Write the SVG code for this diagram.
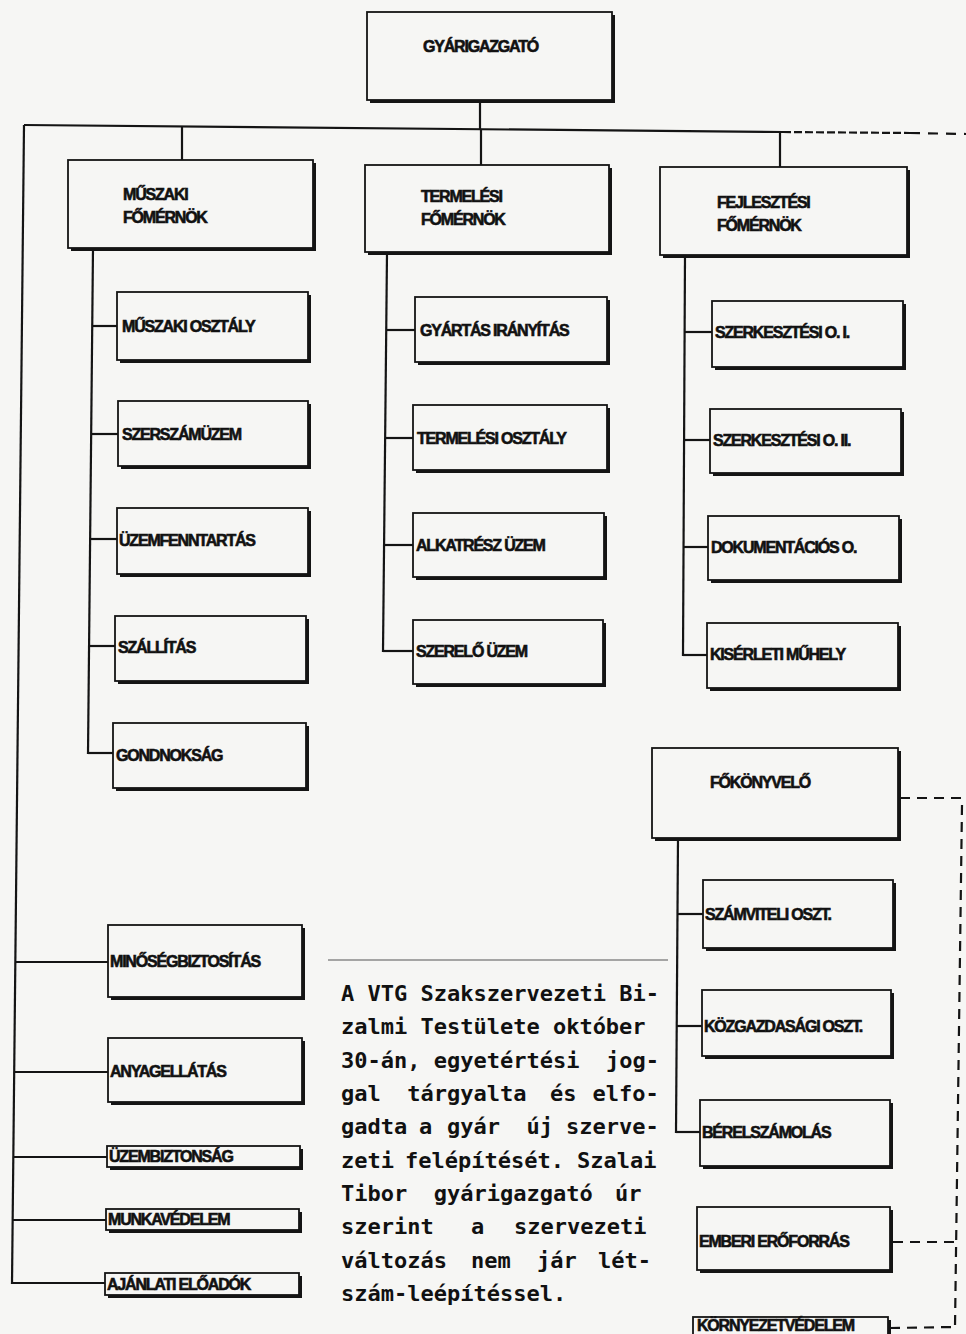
<svg xmlns="http://www.w3.org/2000/svg" width="966" height="1334" viewBox="0 0 966 1334">
<style>
.bg{fill:#f6f6f4}
.sh{fill:#141414}
.bx{fill:#f6f6f4;stroke:#141414;stroke-width:1.8}
.lb{font-family:"Liberation Sans",Arial,sans-serif;font-weight:bold;font-size:16px;letter-spacing:-1.2px;fill:#111;stroke:#111;stroke-width:0.6px}
.ln{stroke:#141414;stroke-width:2.2;fill:none}
.dl{stroke:#141414;stroke-width:2.2;fill:none;stroke-dasharray:10 7}
.pt{font-family:"DejaVu Sans Mono","Liberation Mono",monospace;font-weight:bold;font-size:22px;fill:#111}
</style>
<rect class="bg" x="0" y="0" width="966" height="1334"/>

<g id="connectors">
  <polyline class="ln" points="24,125 783,132"/>
  <path class="ln" d="M783,132 L910,133" style="stroke-dasharray:8 3"/>
  <path class="ln" d="M910,133 L966,134" style="stroke-dasharray:10 8"/>
  <line class="ln" x1="480" y1="100" x2="480" y2="129"/>
  <line class="ln" x1="182" y1="126" x2="182" y2="160"/>
  <line class="ln" x1="481" y1="129" x2="481" y2="165"/>
  <line class="ln" x1="780" y1="132" x2="780" y2="167"/>
  <line class="ln" x1="24" y1="125" x2="12" y2="1284"/>
  <line class="ln" x1="15" y1="962" x2="108" y2="962"/>
  <line class="ln" x1="14" y1="1072" x2="108" y2="1072"/>
  <line class="ln" x1="13" y1="1157" x2="107" y2="1157"/>
  <line class="ln" x1="13" y1="1220" x2="106" y2="1220"/>
  <line class="ln" x1="12" y1="1283" x2="105" y2="1283"/>
  <line class="ln" x1="93" y1="248" x2="88" y2="754"/>
  <line class="ln" x1="93" y1="326" x2="117" y2="326"/>
  <line class="ln" x1="92" y1="434" x2="118" y2="434"/>
  <line class="ln" x1="91" y1="539" x2="117" y2="539"/>
  <line class="ln" x1="90" y1="646" x2="115" y2="646"/>
  <line class="ln" x1="88" y1="753" x2="113" y2="753"/>
  <line class="ln" x1="387" y1="253" x2="383" y2="652"/>
  <line class="ln" x1="387" y1="330" x2="415" y2="330"/>
  <line class="ln" x1="386" y1="438" x2="413" y2="438"/>
  <line class="ln" x1="384" y1="545" x2="413" y2="545"/>
  <line class="ln" x1="383" y1="651" x2="413" y2="651"/>
  <line class="ln" x1="685" y1="255" x2="683" y2="656"/>
  <line class="ln" x1="685" y1="332" x2="712" y2="332"/>
  <line class="ln" x1="684" y1="440" x2="710" y2="440"/>
  <line class="ln" x1="684" y1="547" x2="708" y2="547"/>
  <line class="ln" x1="683" y1="655" x2="707" y2="655"/>
  <line class="ln" x1="678" y1="838" x2="676" y2="1133"/>
  <line class="ln" x1="678" y1="914" x2="703" y2="914"/>
  <line class="ln" x1="677" y1="1026" x2="702" y2="1026"/>
  <line class="ln" x1="676" y1="1132" x2="700" y2="1132"/>
  <line class="dl" x1="900" y1="798" x2="966" y2="798"/>
  <line class="dl" x1="962" y1="805" x2="955" y2="1327"/>
  <line class="dl" x1="893" y1="1242" x2="956" y2="1242"/>
  <line class="dl" x1="890" y1="1328" x2="955" y2="1327"/>
  <line x1="328" y1="960" x2="668" y2="960" stroke="#555" stroke-width="1"/>
</g>

<g id="n-gyarigazgato"><rect class="sh" x="370" y="15" width="245" height="88"/><rect class="bx" x="367" y="12" width="245" height="88"/><text class="lb" x="423" y="52">GYÁRIGAZGATÓ</text></g>

<g id="n-muszaki-fomernok"><rect class="sh" x="71" y="163" width="245" height="88"/><rect class="bx" x="68" y="160" width="245" height="88"/><text class="lb" x="123" y="200">MŰSZAKI</text><text class="lb" x="123" y="223">FŐMÉRNÖK</text></g>
<g id="n-termelesi-fomernok"><rect class="sh" x="368" y="168" width="244" height="87"/><rect class="bx" x="365" y="165" width="244" height="87"/><text class="lb" x="421" y="202">TERMELÉSI</text><text class="lb" x="421" y="225">FŐMÉRNÖK</text></g>
<g id="n-fejlesztesi-fomernok"><rect class="sh" x="663" y="170" width="247" height="88"/><rect class="bx" x="660" y="167" width="247" height="88"/><text class="lb" x="717" y="208">FEJLESZTÉSI</text><text class="lb" x="717" y="231">FŐMÉRNÖK</text></g>

<g id="n-muszaki-osztaly"><rect class="sh" x="120" y="295" width="191" height="68"/><rect class="bx" x="117" y="292" width="191" height="68"/><text class="lb" x="122" y="332">MŰSZAKI OSZTÁLY</text></g>
<g id="n-szerszamuzem"><rect class="sh" x="121" y="404" width="190" height="65"/><rect class="bx" x="118" y="401" width="190" height="65"/><text class="lb" x="122" y="440">SZERSZÁMÜZEM</text></g>
<g id="n-uzemfenntartas"><rect class="sh" x="120" y="511" width="191" height="66"/><rect class="bx" x="117" y="508" width="191" height="66"/><text class="lb" x="119" y="546">ÜZEMFENNTARTÁS</text></g>
<g id="n-szallitas"><rect class="sh" x="118" y="619" width="191" height="65"/><rect class="bx" x="115" y="616" width="191" height="65"/><text class="lb" x="118" y="653">SZÁLLÍTÁS</text></g>
<g id="n-gondnoksag"><rect class="sh" x="116" y="726" width="193" height="65"/><rect class="bx" x="113" y="723" width="193" height="65"/><text class="lb" x="116" y="761">GONDNOKSÁG</text></g>

<g id="n-gyartas-iranyitas"><rect class="sh" x="418" y="300" width="192" height="65"/><rect class="bx" x="415" y="297" width="192" height="65"/><text class="lb" x="420" y="336">GYÁRTÁS IRÁNYÍTÁS</text></g>
<g id="n-termelesi-osztaly"><rect class="sh" x="416" y="408" width="194" height="65"/><rect class="bx" x="413" y="405" width="194" height="65"/><text class="lb" x="417" y="444">TERMELÉSI OSZTÁLY</text></g>
<g id="n-alkatresz-uzem"><rect class="sh" x="416" y="516" width="191" height="64"/><rect class="bx" x="413" y="513" width="191" height="64"/><text class="lb" x="416" y="551">ALKATRÉSZ ÜZEM</text></g>
<g id="n-szerelo-uzem"><rect class="sh" x="416" y="623" width="190" height="64"/><rect class="bx" x="413" y="620" width="190" height="64"/><text class="lb" x="416" y="657">SZERELŐ ÜZEM</text></g>

<g id="n-szerkesztesi-1"><rect class="sh" x="715" y="304" width="191" height="66"/><rect class="bx" x="712" y="301" width="191" height="66"/><text class="lb" x="715" y="338">SZERKESZTÉSI O. I.</text></g>
<g id="n-szerkesztesi-2"><rect class="sh" x="713" y="412" width="191" height="64"/><rect class="bx" x="710" y="409" width="191" height="64"/><text class="lb" x="713" y="446">SZERKESZTÉSI O. II.</text></g>
<g id="n-dokumentacios"><rect class="sh" x="711" y="519" width="191" height="64"/><rect class="bx" x="708" y="516" width="191" height="64"/><text class="lb" x="711" y="553">DOKUMENTÁCIÓS O.</text></g>
<g id="n-kiserleti-muhely"><rect class="sh" x="710" y="626" width="191" height="65"/><rect class="bx" x="707" y="623" width="191" height="65"/><text class="lb" x="710" y="660">KISÉRLETI MŰHELY</text></g>

<g id="n-fokonyvelo"><rect class="sh" x="655" y="751" width="246" height="90"/><rect class="bx" x="652" y="748" width="246" height="90"/><text class="lb" x="710" y="788">FŐKÖNYVELŐ</text></g>
<g id="n-szamviteli"><rect class="sh" x="706" y="883" width="190" height="68"/><rect class="bx" x="703" y="880" width="190" height="68"/><text class="lb" x="705" y="920">SZÁMVITELI OSZT.</text></g>
<g id="n-kozgazdasagi"><rect class="sh" x="705" y="993" width="189" height="66"/><rect class="bx" x="702" y="990" width="189" height="66"/><text class="lb" x="704" y="1032">KÖZGAZDASÁGI OSZT.</text></g>
<g id="n-berelszamolas"><rect class="sh" x="703" y="1103" width="190" height="66"/><rect class="bx" x="700" y="1100" width="190" height="66"/><text class="lb" x="702" y="1138">BÉRELSZÁMOLÁS</text></g>
<g id="n-emberi-eroforras"><rect class="sh" x="700" y="1210" width="193" height="63"/><rect class="bx" x="697" y="1207" width="193" height="63"/><text class="lb" x="699" y="1247">EMBERI ERŐFORRÁS</text></g>
<g id="n-kornyezetvedelem"><rect class="sh" x="696" y="1320" width="195" height="30"/><rect class="bx" x="693" y="1317" width="195" height="30"/><text class="lb" x="697" y="1331">KÖRNYEZETVÉDELEM</text></g>

<g id="n-minosegbiztositas"><rect class="sh" x="111" y="928" width="194" height="72"/><rect class="bx" x="108" y="925" width="194" height="72"/><text class="lb" x="110" y="967">MINŐSÉGBIZTOSÍTÁS</text></g>
<g id="n-anyagellatas"><rect class="sh" x="111" y="1041" width="194" height="64"/><rect class="bx" x="108" y="1038" width="194" height="64"/><text class="lb" x="110" y="1077">ANYAGELLÁTÁS</text></g>
<g id="n-uzembiztonsag"><rect class="sh" x="110" y="1149" width="193" height="21"/><rect class="bx" x="107" y="1146" width="193" height="21"/><text class="lb" x="109" y="1162">ÜZEMBIZTONSÁG</text></g>
<g id="n-munkavedelem"><rect class="sh" x="109" y="1212" width="193" height="21"/><rect class="bx" x="106" y="1209" width="193" height="21"/><text class="lb" x="108" y="1225">MUNKAVÉDELEM</text></g>
<g id="n-ajanlati-eloadok"><rect class="sh" x="108" y="1276" width="194" height="22"/><rect class="bx" x="105" y="1273" width="194" height="22"/><text class="lb" x="107" y="1290">AJÁNLATI ELŐADÓK</text></g>

<g id="note">
  <text class="pt" x="341" y="1001">A VTG Szakszervezeti Bi-</text>
  <text class="pt" y="1034"><tspan x="341">zalmi</tspan><tspan x="420.5">Testülete</tspan><tspan x="552.9">október</tspan></text>
  <text class="pt" y="1068"><tspan x="341">30-án,</tspan><tspan x="433.7">egyetértési</tspan><tspan x="605.9">jog-</tspan></text>
  <text class="pt" y="1101"><tspan x="341">gal</tspan><tspan x="407.2">tárgyalta</tspan><tspan x="550">és</tspan><tspan x="592.6">elfo-</tspan></text>
  <text class="pt" y="1134"><tspan x="341">gadta</tspan><tspan x="419">a</tspan><tspan x="446.9">gyár</tspan><tspan x="526.4">új</tspan><tspan x="566.1">szerve-</tspan></text>
  <text class="pt" y="1168"><tspan x="341">zeti</tspan><tspan x="405">felépítését.</tspan><tspan x="577">Szalai</tspan></text>
  <text class="pt" y="1201"><tspan x="341">Tibor</tspan><tspan x="433.7">gyárigazgató</tspan><tspan x="615">úr</tspan></text>
  <text class="pt" y="1234"><tspan x="341">szerint</tspan><tspan x="471">a</tspan><tspan x="514">szervezeti</tspan></text>
  <text class="pt" y="1268"><tspan x="341">változás</tspan><tspan x="471">nem</tspan><tspan x="537">jár</tspan><tspan x="598">lét-</tspan></text>
  <text class="pt" x="341" y="1301">szám-leépítéssel.</text>
</g>
</svg>
